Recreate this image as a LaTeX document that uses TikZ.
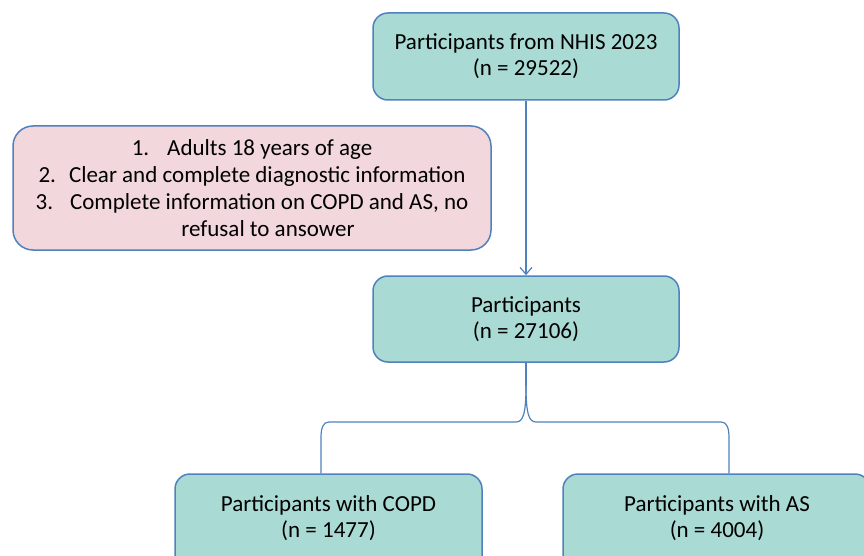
\documentclass[tikz,border=0pt]{standalone}
\usepackage{fontspec}
\setmainfont{Carlito}
\usetikzlibrary{arrows.meta}
\definecolor{edgeblue}{RGB}{79,129,189}
\definecolor{tealfill}{RGB}{170,218,212}
\definecolor{pinkfill}{RGB}{242,215,220}
\tikzset{
  box/.style={draw=edgeblue, line width=1.5pt, fill=tealfill, rounded corners=15pt, inner sep=0pt},
  pinkbox/.style={draw=edgeblue, line width=1.5pt, fill=pinkfill, rounded corners=20pt, inner sep=0pt},
  txt/.style={font=\fontsize{23pt}{26pt}\selectfont, align=center, inner sep=0pt},
  conn/.style={draw=edgeblue, line width=1.2pt},
}
\begin{document}
\begin{tikzpicture}[x=1pt,y=-1pt]
\useasboundingbox (0,0) rectangle (864,556);
\clip (0,0) rectangle (864,556);
\node[box, minimum width=306pt, minimum height=87pt, txt] (b1) at (526,56.5) {Participants from NHIS 2023\\(n = 29522)};
\node[pinkbox, minimum width=478pt, minimum height=124pt, font=\fontsize{23pt}{27pt}\selectfont, align=center] (crit) at (252,188)
  {1.\hspace{18pt}Adults 18 years of age\\
   2.\hspace{13pt}Clear and complete diagnostic information\\
   3.\hspace{17pt}Complete information on COPD and AS, no\\
   \hspace*{32pt}refusal to ansower};
\node[box, minimum width=306pt, minimum height=86pt, txt] (b2) at (526,319) {Participants\\(n = 27106)};
\node[box, minimum width=307pt, minimum height=126pt] (bl) at (328.5,537) {};
\node[box, minimum width=307pt, minimum height=126pt] (br) at (716.5,537) {};
\node[txt] (tl) at (328.5,518) {Participants with COPD\\(n = 1477)};
\node[txt] (tr) at (717,518) {Participants with AS\\(n = 4004)};
\draw[conn, -{Straight Barb[length=7pt,width=12pt]}] (b1.south) -- (b2.north);
\coordinate (split) at (526,386);
\draw[conn] (b2.south) -- (split);
\draw[conn] (split) .. controls (526,414) and (523,422) .. (516,422) -- (329,422)
  .. controls (323,422) and (321,428) .. (321,438) -- (321,0 |- bl.north);
\draw[conn] (split) .. controls (526,414) and (529,422) .. (536,422) -- (721,422)
  .. controls (727,422) and (729,428) .. (729,438) -- (729,0 |- br.north);
\end{tikzpicture}
\end{document}
